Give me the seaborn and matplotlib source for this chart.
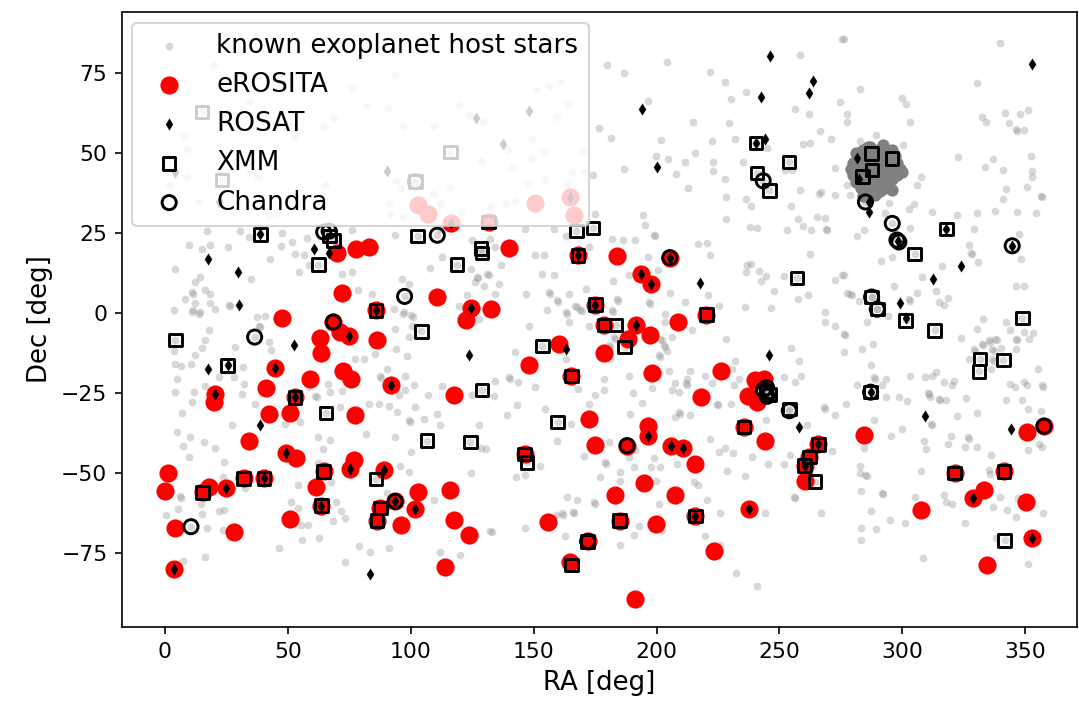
import numpy as np
import pandas as pd
import seaborn as sns
import matplotlib
matplotlib.use("Agg")
import matplotlib.pyplot as plt

# (RA, Dec) in degrees
host_pts = [
    # north-west
    (19.8, 77.4), (34, 66), (53, 54.7), (64.6, 58), (68.7, 61), (7.6, 55), (9, 51.3), (9, 42.5), (38, 42.5),
    (34, 44), (65, 40), (1.5, 40), (13.7, 34.7), (42.2, 30.5), (46, 31), (54.4, 34.2), (76, 70), (78.8, 79.5),
    (93.7, 74.3), (82.2, 64.6), (90.8, 64), (96.7, 58.4), (109.4, 58.4), (119.5, 65.1), (123.6, 61.8),
    (129.3, 59.7), (151, 69.6), (156.2, 70.9), (160.6, 72), (164, 65.1), (159.5, 61.3), (149.4, 54.2),
    (154.5, 50.3), (149.4, 48.2), (141.2, 45.6), (139.6, 50.8), (128.7, 47.5), (169.7, 50.5), (170.4, 44),
    (165.6, 44), (163.6, 40.4), (154.1, 41.5), (147.6, 40.4), (142.6, 34.9), (138.9, 33.9), (132.4, 33.1),
    (120.9, 31.6), (115.7, 39.4), (109.1, 37.3), (112, 33.9), (94, 41.2), (96.2, 39.1), (91.7, 34.1),
    (91.7, 31), (96.9, 30), (176.5, 57.8), (174, 43), (174.9, 31),
    # north-east
    (179.9, 77.4), (186.7, 74.8), (204.3, 78.5), (221.9, 75.3), (227.8, 72.2), (236.6, 69.1), (230.5, 66.7),
    (196.6, 66.2), (214.9, 59.7), (229.5, 59.2), (256.3, 63.6), (258.2, 80.5), (262, 62), (266.6, 56.8),
    (270.8, 54.5), (274.5, 65.9), (275.5, 85.7), (181.6, 54.7), (202, 54), (199.6, 49.1), (204.7, 48.2),
    (211.5, 47.2), (215.6, 50.1), (222.6, 53.7), (232.1, 54.2), (223, 47.2), (235.1, 47.2), (222.9, 44.3),
    (228, 42), (208, 43.5), (186.9, 45.1), (212.9, 39.1), (228.3, 36.3), (236.2, 35.7), (238.6, 33.4),
    (228.3, 29.4), (194.5, 30.7), (259.5, 52.9), (262.5, 53.2), (252.2, 44.6), (255.2, 44.6), (258.2, 38.3),
    (266.3, 37.3), (266.8, 37.8), (272.6, 36.8), (272.8, 45.3), (254.9, 33.3), (257.6, 29.4), (265.4, 30),
    (268.5, 29.7), (245, 51.4),
    (276.2, 85.7), (339.7, 84.2), (282.6, 69.9), (300, 67.2), (301.6, 65.4), (330.2, 71.7), (341.6, 62.6),
    (347.8, 62.3), (351.1, 63.3), (332.5, 61.3), (334.1, 59.7), (343.4, 59.2), (346.1, 57.4), (346.6, 57.0),
    (349.5, 57.1), (303.3, 59.7), (277.6, 62), (277.6, 59.5), (289.1, 55.7), (282.6, 53.7), (300.4, 52.4),
    (322.7, 48.6), (336.9, 48.1), (352.2, 49.1), (333.5, 45.6), (341.1, 44.6), (352.9, 44.3), (352.6, 42.4),
    (307.8, 42.4), (306.1, 40.1), (342.3, 38.8), (350.6, 39.4), (340.9, 35.5), (356.3, 36.7), (356.8, 36.2),
    (277.6, 40.1), (278.9, 36.8), (294.5, 34.5), (304.7, 33.9), (302.7, 32.4), (312.2, 31.6), (322.3, 30.5),
    (330.5, 31.1), (337.9, 31.8), (346.8, 31.6), (354.2, 31.1), (292.9, 31.1),
    # equator, west
    (17.1, 25.5), (30.7, 25.5), (34.1, 23.8), (47.6, 25.1), (9.6, 21.2), (15.1, 20.1), (18.4, 21.4),
    (25.6, 20.6), (42.9, 17), (47.3, 21), (51.7, 22.2), (53, 18.5), (56.4, 18), (57.8, 23.4), (54.4, 12.8),
    (58.5, 14.9), (4.2, 13.9), (12.3, 9.7), (14.4, 11.3), (11, 6.6), (11.5, 6.1), (8.3, 4.3), (16.2, 7.1),
    (18.4, 6), (12.3, 3), (18.4, 3), (11, 0.3), (11.6, 0.8), (14.4, 0.3), (14.0, -0.3), (3.5, 0.8),
    (20.5, 1.4), (25.9, 2.6), (26.5, 2.1), (35.1, 10.5), (37.4, -1.3), (40.8, -1), (38.3, -3.9), (38.8, -4.4),
    (18, -5.4), (16.4, -8.5), (42.2, -9.1), (43.3, -11.4), (28.6, -10.6), (15.1, -10.9), (3.5, -11.7),
    (12.3, -13.2), (4.2, -15.8), (6.6, -16.6), (10.7, -15.8), (31.6, -16.9), (21.8, -20.1), (28, -20.1),
    (5, -20.5), (32, -22.1), (16.1, -22.8), (4.2, -24.7), (11.7, -24.5), (31.4, -25.2), (36.5, -28.3),
    (10.9, -27.8), (61.2, -25.8), (61.7, -26.3), (66.3, -22.1), (58.5, -23.2), (7, -31.2), (27.3, -35.1),
    (49, -34.6), (55.1, -34.1), (72, -24.2), (67, -24.7), (71.4, -29.4), (76.1, 12.8), (72.1, 12.3),
    (78.6, 7.1), (76.1, 25.8), (77.5, -14.3),
    (93.5, 24.5), (125, 22.7), (132.4, 23.2), (134.4, 20.6), (112.7, 17.5), (108, 14), (124.7, 13.9),
    (127, 11.3), (127.5, 10.8), (131.7, 11.8), (131.2, 12.3), (126, 9.7), (129.7, 8.4), (135.8, 9.2),
    (134.4, 6), (122.9, 5.5), (119.5, 2.3), (127.7, -1.8), (96.5, 10.7), (99.2, 9.2), (84.2, 6), (93.1, 1.4),
    (96.7, -0.2), (97.2, 0.3), (100.3, -0.7), (100.8, -1.2), (100.5, -3.9), (93.7, -4.9), (99.2, -7.5),
    (94, -11.2), (98.5, -13.4), (90.4, -17.4), (87.6, -19.7), (88.1, -20.2), (97.8, -19.7), (101.2, -22.4),
    (97.6, -24), (107, -25.5), (112.7, -22.8), (95.1, -25.7), (87, -28.3), (83.2, -28.3), (91, -29),
    (94.4, -30.9), (101.9, -29.4), (99.2, -33.5), (99.7, -34), (105.3, -33), (110.7, -31.4), (112.1, -35.1),
    (127.7, -35.1), (125, -25.7), (134.2, -21.3), (133.8, -25.9), (139.9, -20.1), (140.4, -20.6),
    (143.7, -21.6), (142.3, -12.2), (150.7, -23.2), (139.2, -31.9), (143.3, -28.6), (154.5, -29.9),
    (165, -34.6), (172.4, -28.3), (168.1, -23.7), (174.9, -25.7), (163.2, -14.5), (148, -3.9), (158.2, 11.8),
    (153.4, 12.3), (156.2, 6.6), (156.7, 6.1), (159.5, 4), (160, 3.5), (155.5, 0.8), (163.2, 0.3),
    (163.7, -0.2), (167, 2.3), (167.5, 1.8), (169, 1.1), (169.5, 0.6), (164.3, -2.8), (171.3, 7.6),
    (164.3, 6), (172.4, -3.9), (146.9, 6), (154.1, 18), (150.7, 18), (158.2, 26.4), (163.2, 24.1),
    (172.4, 20.6), (146.6, 26.4), (112.1, 26.4), (136.9, 15), (85.6, -12.7), (80.9, -14.3),
    # equator, east
    (195.5, 27.6), (198.9, 24.5), (199.4, 24), (181.9, 23.2), (186.3, 22.7), (191.2, 22.7), (238.2, 26.9),
    (240.9, 26.6), (252.9, 25.8), (259.7, 27.2), (263, 25.8), (269, 26.4), (269.5, 25.9), (216.8, 21.7),
    (220.6, 22), (221.7, 18), (262.6, 18.5), (236.9, 15.1), (238.5, 15.4), (236.5, 12.8), (241.6, 13),
    (244.7, 11.5), (251.8, 11.7), (242.3, 9.9), (247.7, 6.9), (272.8, 10.2), (275.3, 11.8), (261.6, 5.5),
    (268.7, 0.3), (268.7, -2.8), (272.6, -3.9), (182.2, 9.9), (188.7, 11.8), (196.6, 17.5), (200.6, 13.3),
    (205.3, 6.2), (211.5, 3.6), (221, 5.7), (225.6, 2.2), (235.9, 1.9), (246.4, 1.7), (257.6, 4.3),
    (228.3, -8.1), (254.9, -10.9), (257.9, -15.1), (251.8, -20), (258.6, -19.7), (256.3, -21.6),
    (232.1, -15.1), (230.8, -17.4), (233.5, -20.5), (231.5, -22.6), (236.2, -24.7), (230.1, -28.3),
    (224.4, -28.3), (224.9, -28.8), (219.7, -19.7), (222.6, -21.9), (213.8, -18.2), (212.5, -20.5),
    (211.8, -21.9), (212.3, -22.4), (207.4, -21.9), (206.3, -24), (209.1, -24.5), (200.9, -18.6), (205, -18.1),
    (198.2, -23.5), (193.9, -28), (189.4, -31.4), (207.7, -32.4), (213.8, -31.9), (209.1, -30.9),
    (209.6, -31.4), (244.6, -33.5), (268.1, -29.4), (268.6, -29.9), (272.8, -31.8), (261.3, -34.9),
    (178.5, -20.5), (178.5, -24), (188.7, -19.5), (190.3, -24.9), (181.2, -14.3), (182.6, -7.5), (183.1, -8),
    (180.6, -10.1), (181.1, -10.6), (181.9, 0.8), (182.4, 0.3), (184, 4.4), (184.5, 3.9), (201.6, -8),
    (202.1, -8.5), (203, -10.1), (203.5, -10.6), (200.9, -13.2), (201.4, -13.7), (204.3, -11.7),
    (206.3, -7.5), (203.6, -2.8), (214.5, -5.4), (196.9, 3.4), (197.4, 2.9), (203.6, -0.2),
    (281.6, 24.1), (284.4, 25.8), (303.3, 26.6), (329.1, 26.4), (327.1, 21.1), (327.8, 18.9), (328.3, 18.4),
    (330.9, 16), (347.4, 24.8), (348.1, 16.8), (346.1, 8.6), (349.5, 8.6), (316.2, 14.7), (308.1, 11.3),
    (296.6, 8.3), (291.5, 16.2), (295.9, 17.5), (276.2, 11.8), (277.6, 6.4), (278.9, 6), (279.4, 5.5),
    (282.3, 3.9), (306.1, 6.4), (313.5, 6.8), (318.7, 4.7), (314.9, 3.4), (316.9, 2.4), (302.7, 4.3),
    (303.2, 3.8), (294.3, -0.9), (285.7, -2.8), (276.2, -6.4), (276.7, -6.9), (276.2, -12.2), (283.7, -11.2),
    (288, -9.6), (323.7, -7.8), (330.5, -4.9), (332.8, -2), (342.3, -2.8), (344, -5.4), (346.1, -8),
    (346.6, -8.5), (349.5, -6), (353.1, -6.2), (351.5, -8), (329.1, -11.2), (329.6, -11.7), (332.5, -9.6),
    (333, -10.1), (335.2, -8.5), (335.7, -9), (337.9, -8), (338.4, -8.5), (340, -10.9), (336.6, -11.2),
    (337.1, -11.7), (346.1, -11.2), (327.1, -14.3), (335.9, -17.4), (336.6, -14.5), (337.1, -15),
    (355.3, -17.4), (344, -22.1), (345.8, -23.2), (349.5, -21.4), (350.8, -22.4), (356.9, -22.6),
    (357.4, -23.1), (342, -27.3), (348.8, -27.3), (351.2, -29.9), (356.3, -30.7), (287.1, -16.3),
    (288.4, -20), (288.9, -20.5), (293.2, -20.5), (291.8, -22.6), (281.6, -22.6), (303.3, -19.7),
    (309.4, -20), (311.9, -19.5), (313.5, -18.4), (316.9, -21.4), (321, -21.1), (320.3, -22.6),
    (310.5, -24.9), (311, -25.4), (311.2, -26.3), (314.9, -26.8), (315.4, -27.3), (317.9, -27.3), (326, -26.6),
    (298.6, -26.3), (302, -27.6), (293.2, -26.3), (276.9, -28.3), (288.4, -33.5), (300, -36.1),
    (311.5, -34.6), (312, -35.1), (322.3, -32.2), (330.5, -31.2),
    # south
    (4.9, -37.2), (10.3, -38.7), (7.3, -41.4), (15.7, -40.3), (20.5, -42.1), (9.6, -45), (23.9, -46.6),
    (23.7, -51.3), (6.2, -57.2), (6.7, -57.7), (5.3, -61.1), (0.4, -63.2), (15.1, -62.7), (14.8, -59.6),
    (22.1, -61.7), (23.9, -61.5), (17.1, -67.2), (23.7, -67.6), (7.3, -77.3), (16.4, -76.3), (32.7, -54.7),
    (54.1, -53.6), (51.4, -59.1), (54.1, -60.9), (55.5, -66.1), (58.2, -66.1), (55.8, -71), (62.5, -70.3),
    (46.3, -73.3), (62.3, -38.7), (67.3, -39.6), (64.2, -42.6), (62.2, -46.8), (67.7, -52.8), (69.7, -58.9),
    (71.7, -61.7), (68.3, -64.8), (73.1, -64.1), (78.8, -72.8), (73.1, -77.6),
    (81.8, -37.7), (93.5, -38.8), (100.3, -43.4), (95.8, -47.6), (99.2, -49.5), (90.4, -56.1), (109.4, -58.3),
    (91, -73.4), (83.6, -74.7), (112.1, -74.7), (120.2, -75.5), (124.7, -50), (132.4, -67.9), (132.9, -68.4),
    (128.7, -42.2), (130.8, -42.4), (143, -51.2), (146.4, -50.5), (152.5, -47.8), (146.4, -67.1),
    (159.5, -39.8), (170.4, -44.7), (176.8, -51.1), (163.6, -57.5), (167.7, -58.5), (161.6, -62.4),
    (162.1, -62.9), (165.9, -62), (166.4, -62.5), (158.9, -63.2), (174.5, -59.1), (175, -59.6), (162.9, -69.7),
    (180.6, -40.3), (179, -46.6), (179.5, -47.1), (191.4, -42.9), (188.7, -45), (190.8, -48.1), (197.9, -48.1),
    (201.6, -48.1), (199.1, -45.3), (185.3, -49.7), (185.3, -52.3), (199.6, -52.3), (215.2, -52.8),
    (216.9, -53.6), (200.9, -59.6), (193, -66.6), (190.8, -69.3), (185.3, -72.4), (202.3, -67.6),
    (220.6, -58.5), (226, -62.4), (219.9, -69.7), (226, -72.3), (232.4, -81.1), (240.9, -85.3), (221.9, -39.3),
    (225.6, -43.4), (228, -42.2), (231, -43.6), (238.9, -45), (228.7, -49.2), (235.8, -50.8), (245.3, -47.1),
    (251.8, -47.1), (254.5, -44.2), (255.9, -57.3), (256.4, -57.8), (244.1, -62.5), (267.1, -62.5),
    (271.5, -43.2), (208.4, -47.1),
    (295.5, -38.4), (309, -39.8), (309.7, -42.4), (284.4, -42.2), (282.7, -47.8), (282.6, -49.9), (285, -50.5),
    (285.5, -51), (283.3, -55.7), (291.8, -56.1), (292.3, -56.6), (287.1, -61.7), (305, -57.3), (316.9, -56.8),
    (317.9, -59.1), (320.3, -59.6), (307.4, -49.2), (294.8, -64.5), (300.9, -65.5), (283.3, -67.2),
    (289.4, -67.4), (283, -70.8), (308.4, -76.4), (319.6, -38.4), (326.8, -38.7), (327.3, -39.2),
    (318.7, -40.8), (325.5, -41.9), (330.2, -41.9), (336.2, -44.2), (335.2, -48.9), (335.6, -50.2),
    (339.6, -57.5), (336.9, -60.6), (342.7, -61.4), (346.1, -63.7), (347.2, -57.8), (351.2, -42.7),
    (355.6, -40.8), (356.9, -41.9), (357.3, -62.5), (325.3, -65.5), (351.1, -78.5), (338.2, -70.2),
]

# the dense Kepler field
kepler_pts = [
    (279, 45), (280, 43), (280, 47), (281, 41), (282, 45), (282, 49), (283, 39), (283, 43), (283, 47),
    (284, 51), (285, 38), (285, 41), (285, 45), (285, 49), (286, 43), (286, 47), (287, 40), (287, 52),
    (288, 38), (288, 42), (288, 45), (288, 49), (289, 44), (289, 47), (290, 40), (290, 43), (290, 51),
    (291, 38), (291, 46), (291, 49), (292, 42), (292, 44), (293, 39), (293, 47), (293, 51), (294, 41),
    (294, 44), (294, 49), (295, 46), (296, 42), (296, 38.5), (297, 45), (297, 49), (298, 43), (298, 47),
    (299, 45), (300, 44), (284, 36.5), (289, 37), (286, 52), (292, 52.5), (281, 50), (296, 51),
]

erosita_pts = [
    (1.1, -49.8), (-0.1, -55.5), (3.9, -67.1), (3.7, -80), (34, -40), (49.2, -43.7), (53.3, -45.3),
    (77, -46), (75.4, -48.7), (64.6, -49.4), (61.6, -54.2), (63.6, -60.1), (51, -64.3), (32, -51.6),
    (40.2, -51.6), (25, -54.6), (18, -54.4), (15.3, -56), (28.1, -68.5),
    (70, 18.8), (77.9, 20.1), (83.2, 20.6), (72.2, 6.3), (47.6, -1.5), (68.5, -2.8), (71.3, -6), (74.8, -7.2),
    (63.2, -7.8), (63.5, -12.4), (44.9, -17.1), (72.6, -18.1), (75.8, -20.5), (59.1, -20.5), (41.1, -23.4),
    (20.2, -25.2), (19.9, -27.8), (53, -26.3), (42.2, -31.5), (51, -31.2), (77.5, -31.8),
    (102.8, 33.6), (106.9, 31), (116.5, 28), (150.7, 34.5), (164.6, 36.1), (166.5, 30.5), (131.7, 28.4),
    (139.8, 20.3), (168.1, 18), (110.8, 5), (124.7, 1.6), (132.8, 1.2), (122.5, -2.3), (85.9, 0.8),
    (86.2, -8.5), (175.1, 2.6), (160.2, -9.6), (148, -16.3), (165.4, -19.7), (91.9, -22.4), (117.6, -25.7),
    (172.5, -33),
    (184, 17.7), (205.4, 17.3), (193.8, 12.3), (197.9, 9.2), (220.3, -0.5), (208.8, -2.8), (191.8, -3.8),
    (197.5, -6.8), (188.4, -8), (178.6, -12.4), (178.6, -3.8), (198.2, -18.7), (226.3, -18.2), (217.9, -26.3),
    (240.1, -21), (243.6, -20.7), (237.3, -25.9), (240.9, -27.8), (196.6, -35.3), (196.6, -38.4),
    (235.5, -35.6),
    (188, -41.4), (206, -41.4), (210.7, -42.1), (244.3, -39.8), (215.8, -47.1), (194.8, -53.1), (183, -56.8),
    (207.7, -56.8), (185, -64.8), (199.8, -65.8), (215.8, -63.4), (237.8, -61.1), (223.4, -74.4),
    (191.2, -89.3), (265.8, -41), (262.2, -45), (260.3, -47.6), (260.3, -52.3),
    (175.1, -41.1), (146.3, -44), (89, -48.9), (93.7, -58.8), (87.6, -60.9), (86.3, -64.8), (96.2, -66.3),
    (102.8, -55.9), (101.6, -61.1), (115.9, -55.1), (117.5, -64.6), (123.6, -69.3), (113.8, -79.4),
    (155.7, -65.3), (172, -71.3), (164.6, -77.6),
    (284.6, -38), (321.3, -49.9), (341.3, -49.4), (333.4, -55.4), (328.7, -57.7), (350.5, -59),
    (307.4, -61.5), (352.6, -70.2), (334.6, -78.7), (350.8, -37.2), (357.6, -35.3),
]

rosat_pts = [
    (3.7, -80), (49.2, -43.7), (75.4, -48.7), (63.6, -60.1), (40.2, -51.6), (25, -54.6), (74.8, -7.2),
    (44.9, -17.1), (20.2, -25.2), (53, -26.3), (168.1, 18), (124.7, 1.6), (85.9, 0.8), (175.1, 2.6),
    (91.9, -22.4), (116.5, 28), (164.6, 36.1), (205.4, 17.3), (193.8, 12.3), (197.9, 9.2), (191.8, -3.8),
    (196.6, -38.4), (245.7, -13.2), (257.9, -35.6), (217.5, 9.5), (206, -41.4), (210.7, -42.1), (265.8, -41),
    (260.3, -47.6), (215.8, -63.4), (237.8, -61.1), (89, -48.9), (93.7, -58.8), (101.6, -61.1), (83.6, -81.5),
    (123.6, -13), (163.2, -11.2), (38.8, 24.6), (60.6, 20.1), (66.6, 18.8), (17.6, 17), (29.6, 12.8),
    (30, 2.6), (52.6, -9.9), (25.5, -16.3), (17.6, -17.4), (38.5, -35.1), (246.1, 80.2), (263.6, 72.5),
    (262.2, 68.8), (242.6, 67.5), (194, 63.8), (200.2, 45.6), (244.3, 54.5), (240.5, 53.1), (352.6, 77.9),
    (282.3, 42), (281.6, 48.5), (286.6, 34.7), (286.4, 31.6), (298.2, 22.5), (317.9, 26.2), (344.7, 21),
    (324, 14.6), (312.6, 10.5), (298.9, 3.1), (301.3, -1.5), (287.1, -24.7), (309.2, -32), (344.3, -36.3),
    (328.7, -57.7), (352.6, -70.2), (126.6, 61), (148, 63), (137.4, 52.9), (90.4, 44.3), (4.2, 44),
    (22, 34.7),
]

xmm_pts = [
    (4.2, -8.4), (25.5, -16.3), (38.8, 24.6), (62.4, 15.1), (67, 24), (68.6, 22.6), (65.5, -31.2),
    (53, -26.3), (15.3, -56), (32, -51.6), (40.2, -51.6), (64.6, -49.4), (63.6, -60.1), (85.9, -51.8),
    (87.6, -60.9), (86.3, -64.8), (106.6, -39.8), (124.3, -40.3), (146.3, -44), (147.3, -46.6),
    (165.4, -78.7), (172, -71.3), (185, -64.8), (215.8, -63.4), (265.8, -41), (262.2, -45), (260.3, -47.6),
    (264.4, -52.6), (235.5, -35.6), (220.3, -0.5), (178.6, -3.8), (183.5, -3.7), (187, -10.6),
    (165.4, -19.7), (153.6, -10.3), (159.8, -34), (129, -24), (104.3, -5.7), (85.9, 0.8), (175.1, 2.6),
    (118.8, 15.1), (102.8, 24.1), (128.6, 20.1), (129, 18.8), (168.1, 18), (167.4, 25.6), (174.2, 26.6),
    (131.7, 28.4), (116.1, 50.3), (101.9, 41), (15.1, 62.8), (23.2, 41.5), (240.5, 53.1), (253.8, 47.2),
    (240.9, 43.8), (245.9, 38.3), (287.5, 49.8), (295.9, 48.2), (287.7, 44.6), (283.7, 42.7), (305, 18.5),
    (317.9, 26.2), (287.5, 5), (289.8, 1.2), (301.3, -2.3), (313.1, -5.4), (348.8, -1.6), (331.6, -14.3),
    (331.2, -18.2), (341.1, -14.6), (287.1, -24.7), (254, -30), (321.3, -49.9), (341.3, -49.4),
    (341.6, -71), (244.5, -24.5), (246, -25.5), (257.2, 10.9),
]

chandra_pts = [
    (10.6, -66.7), (36.5, -7.5), (64.6, 25.3), (66.8, 25.6), (68.5, -2.8), (110.8, 24.3), (97.5, 5.2),
    (93.7, -58.8), (172, -71.3), (188, -41.4), (205.4, 17.3), (243.5, -24), (245, -26), (244.8, -23.3),
    (254, -30.5), (243.4, 41.3), (285, 34.7), (295.9, 28), (297.8, 22.8), (298.6, 22.2), (344.7, 21),
    (287.5, 5), (289.8, 1.2), (287.1, -24.7), (357.6, -35.3), (101.9, 41),
]


def frame(pts):
    a = np.array(pts, dtype=float)
    return pd.DataFrame({"ra": a[:, 0], "dec": a[:, 1]})


# every X-ray target is itself a known host star
hosts = pd.concat([frame(p) for p in (host_pts, erosita_pts, rosat_pts, xmm_pts, chandra_pts)])

fig, ax = plt.subplots(figsize=(1079 / 150, 706 / 150), dpi=150)
fig.subplots_adjust(left=0.113, right=0.998, bottom=0.112, top=0.983)

sns.scatterplot(data=hosts, x="ra", y="dec", ax=ax, color="gray", alpha=0.3, s=14,
                linewidth=0, label="known exoplanet host stars")
sns.scatterplot(data=frame(kepler_pts), x="ra", y="dec", ax=ax, color="gray", s=35, linewidth=0)
sns.scatterplot(data=frame(erosita_pts), x="ra", y="dec", ax=ax, color="red", s=76,
                linewidth=0, label="eROSITA")
sns.scatterplot(data=frame(rosat_pts), x="ra", y="dec", ax=ax, color="black", marker="d", s=17,
                linewidth=0, label="ROSAT")
sns.scatterplot(data=frame(xmm_pts), x="ra", y="dec", ax=ax, marker="s", s=36, facecolor="none",
                edgecolor="black", linewidth=1.4, label="XMM")
sns.scatterplot(data=frame(chandra_pts), x="ra", y="dec", ax=ax, marker="o", s=46, facecolor="none",
                edgecolor="black", linewidth=1.4, label="Chandra")

ax.set_xlim(-17.5, 371)
ax.set_ylim(-98, 94)
ax.set_xticks(np.arange(0, 351, 50))
ax.set_yticks(np.arange(-75, 76, 25))
ax.tick_params(labelsize=10.5)
ax.set_xlabel("RA [deg]", fontsize=12.5)
ax.set_ylabel("Dec [deg]", fontsize=12.5)
ax.legend(loc="upper left", fontsize=12.6, borderaxespad=0.4, labelspacing=0.5)

fig.savefig("out.png", dpi=150)
